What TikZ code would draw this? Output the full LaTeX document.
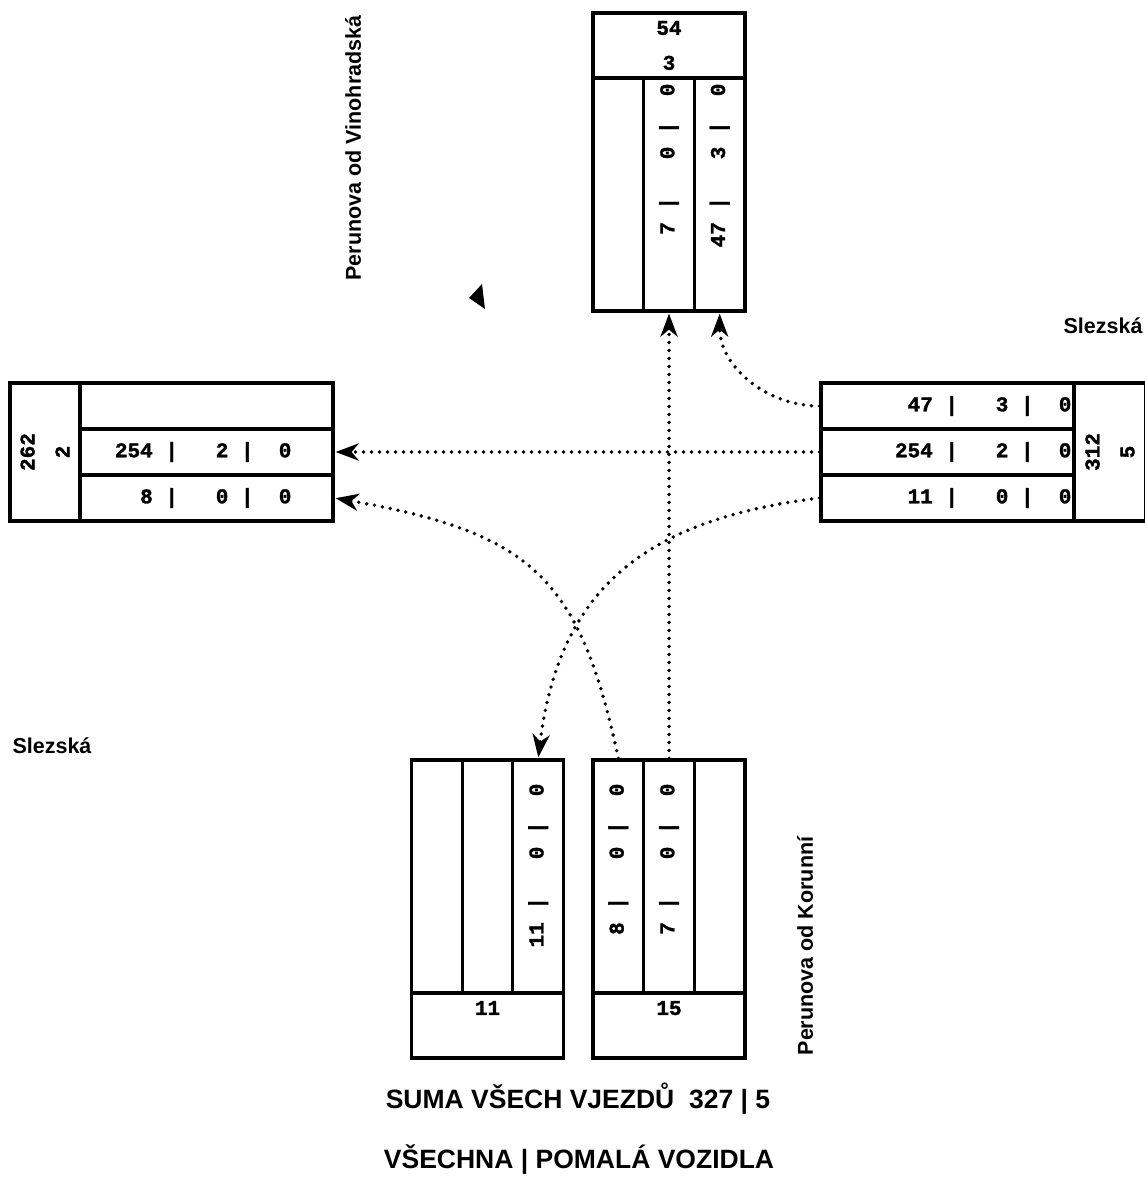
\documentclass[tikz,border=0pt]{standalone}
\usepackage{fontspec}
\setmainfont{Liberation Sans}
\setmonofont{Liberation Mono}[BoldFeatures={FakeBold=1.5}]
\usetikzlibrary{arrows.meta,positioning}

\newcommand\cntfont{\ttfamily\bfseries\fontsize{21}{25}\selectfont}
\newcommand\strfont{\bfseries\fontsize{21.5}{25}\selectfont}
\newcommand\totfont{\bfseries\fontsize{26.5}{30}\selectfont}

\tikzset{
  cell/.style={draw,line width=3.2pt,inner sep=0pt,minimum width=50.667pt,minimum height=233pt},
  hcell/.style={draw,line width=3.2pt,inner sep=0pt,minimum width=152pt,minimum height=65pt,align=center,font=\cntfont},
  vcell/.style={draw,line width=3.2pt,inner sep=0pt,minimum width=138pt,minimum height=70pt,align=center,font=\cntfont,rotate=90},
  row/.style={draw,line width=3.2pt,inner sep=0pt,minimum width=253pt,minimum height=46pt},
  cnt/.style={inner sep=0pt,font=\cntfont,rotate=90,anchor=east},
  rcnt/.style={inner sep=0pt,font=\cntfont,anchor=east},
  street/.style={inner sep=0pt,font=\strfont},
  total/.style={inner sep=0pt,font=\totfont,anchor=base},
  flow/.style={->,line width=3.8pt,line cap=round,dash pattern=on 0pt off 8pt}
}

\begin{document}
\begin{tikzpicture}[x=1pt,y=1pt,node distance=46pt,on grid,shorten >=1pt,
    >={Stealth[length=23pt,width=17pt,inset=7pt]}]
  \useasboundingbox (0,0) rectangle (1144,-1190);

  % Perunova od Vinohradska
  \node[hcell] (n_hd) at (669,-45.5) {54\\[10pt]3};
  \node[cell] (n_2) [below=149pt of n_hd] {};
  \node[cell] (n_1) [left=50.667pt of n_2] {};
  \node[cell] (n_3) [right=50.667pt of n_2] {};
  \node[cnt] (n_2t) at ([yshift=-7pt]n_2.north) {7~|~~~0~|~~0};
  \node[cnt] (n_3t) at ([yshift=-7pt]n_3.north) {47~|~~~3~|~~0};

  % Slezska (west)
  \node[vcell] (w_sum) at (45,-452) {262\\[10pt]2};
  \node[row] (w_2) [right=161.5pt of w_sum] {};
  \node[row] (w_1) [above=of w_2] {};
  \node[row] (w_3) [below=of w_2] {};
  \node[rcnt] (w_2t) at ([xshift=-43pt]w_2.east) {254~|~~~2~|~~0};
  \node[rcnt] (w_3t) at ([xshift=-43pt]w_3.east) {8~|~~~0~|~~0};

  % Slezska (east)
  \node[row] (e_2) at (947.5,-452) {};
  \node[row] (e_1) [above=of e_2] {};
  \node[row] (e_3) [below=of e_2] {};
  \node[vcell,minimum height=72pt] (e_sum) [right=162.5pt of e_2] {312\\[10pt]5};
  \node[rcnt] (e_1t) at ([xshift=-4pt]e_1.east) {47~|~~~3~|~~0};
  \node[rcnt] (e_2t) at ([xshift=-4pt]e_2.east) {254~|~~~2~|~~0};
  \node[rcnt] (e_3t) at ([xshift=-4pt]e_3.east) {11~|~~~0~|~~0};

  % Perunova od Korunni
  \node[cell] (sr_2) [below=682pt of n_2] {};
  \node[cell] (sr_1) [left=50.667pt of sr_2] {};
  \node[cell] (sr_3) [right=50.667pt of sr_2] {};
  \node[hcell] (sr_sum) [below=149pt of sr_2] {15\\[10pt]\mbox{}};
  \node[cell] (sl_2) [left=181.5pt of sr_2] {};
  \node[cell] (sl_1) [left=50.667pt of sl_2] {};
  \node[cell] (sl_3) [right=50.667pt of sl_2] {};
  \node[hcell] (sl_sum) [below=149pt of sl_2] {11\\[10pt]\mbox{}};
  \node[cnt] (sl_3t) at ([yshift=-25pt]sl_3.north) {11~|~~~0~|~~0};
  \node[cnt] (sr_1t) at ([yshift=-25pt]sr_1.north) {8~|~~~0~|~~0};
  \node[cnt] (sr_2t) at ([yshift=-25pt]sr_2.north) {7~|~~~0~|~~0};

  % street names
  \node[street,rotate=90] (l_vin) at (353,-148) {Perunova od Vinohradská};
  \node[street,rotate=90] (l_kor) at (805,-946) {Perunova od Korunní};
  \node[street,anchor=base] (l_sle_e) at (1103,-333) {Slezská};
  \node[street,anchor=base] (l_sle_w) at (52,-753) {Slezská};
  \node[total] (t_sum) at (578,-1108) {SUMA VŠECH VJEZDŮ~~327 | 5};
  \node[total] (t_key) at (579,-1168) {VŠECHNA | POMALÁ VOZIDLA};

  \fill (469,-298) -- (482,-284) -- (485,-309) -- cycle;

  \path[flow] (e_2.west) edge (w_2.east);
  \path[flow] (sr_2.north) edge (n_2.south);
  \path[flow] (e_1.west) edge[out=180,in=-90] (n_3.south);
  \path[flow] (e_3.west) edge[out=187,in=83,distance=173pt] (sl_3.north);
  \path[flow] (sr_1.north) edge[out=102,in=-10,out distance=185pt,in distance=200pt] (w_3.east);
\end{tikzpicture}
\end{document}
